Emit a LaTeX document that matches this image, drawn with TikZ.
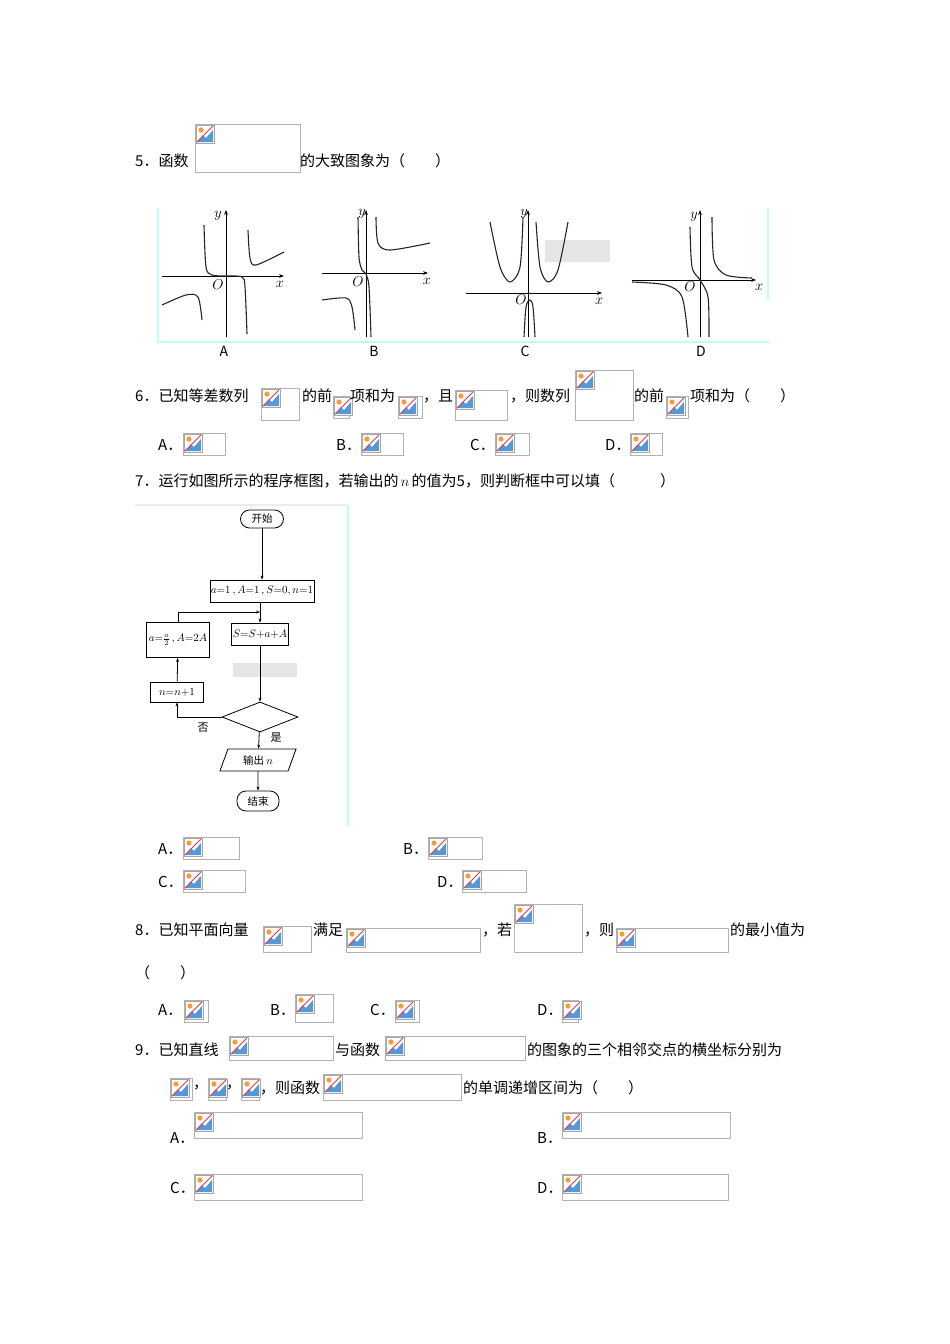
\documentclass[tikz,border=0pt]{standalone}
\usepackage{fontspec}
\setmainfont{Noto Sans CJK SC}
\usetikzlibrary{shapes.geometric,arrows.meta}
\newcommand\bimg[4]{%
  \draw[gray!60,line width=0.6] (#1,#2) rectangle ++(#3,#4);
  \begin{scope}[shift={(#1+1,#2+1)}]
    \fill[white] (0,0) rectangle (18,18);
    \draw[gray!70,line width=0.5] (0,0) rectangle (18,18);
    \fill[orange!80] (5,5) circle (2.6);
    \fill[cyan!60!blue!70] (1,17) -- (7,10) -- (10,13) -- (17,5) -- (17,17) -- cycle;
    \draw[red!80,line width=1] (17,1) -- (1,17);
  \end{scope}}
\begin{document}
\begin{tikzpicture}[x=1pt,y=-1pt,
  txt/.style={anchor=west,inner sep=0pt,font=\fontsize{15}{18}\selectfont},
  cur/.style={line width=1.1,gray!30!black},
  ax/.style={line width=0.7,-{Stealth[length=5pt]}},
  lab/.style={inner sep=0pt,font=\fontsize{14}{16}\selectfont},
  fb/.style={draw,line width=0.8,inner sep=1pt,font=\fontsize{10.5}{12}\selectfont},
  fa/.style={line width=0.8,-{Stealth[length=4pt]}}]
\useasboundingbox (0,0) rectangle (950,1344);
\fill[white] (0,0) rectangle (950,1344);
% Q5
\node[txt] (q5a) at (135,161) {5．函数};
\bimg{195}{124}{105}{48}
\node[txt] (q5b) at (300,161) {的大致图象为（　　）};
% graphs frame
\draw[green!30!cyan!25,line width=2] (158,208) -- (158,342) -- (770,342);
\draw[green!30!cyan!25,line width=2] (768,208) -- (768,300);
% A
\draw[ax] (162,276) -- (284,276);
\draw[ax] (226,337) -- (226,210);
\node[lab] (ay) at (218,216) {$y$};
\node[lab] (ao) at (218,285) {$O$};
\node[lab] (ax) at (280,284) {$x$};
\draw[cur] plot[smooth] coordinates {(204,225) (206,267) (212,275) (226,276)};
\draw[cur] plot[smooth] coordinates {(226,276) (242,277) (245,287) (247,334)};
\draw[cur] plot[smooth] coordinates {(162,305) (186,295) (198,297) (202,320)};
\draw[cur] plot[smooth] coordinates {(248,230) (250,258) (256,265) (284,252)};
% B
\draw[ax] (322,273) -- (428,273);
\draw[ax] (366,337) -- (366,210);
\node[lab] (by) at (362,214) {$y$};
\node[lab] (bo) at (358,282) {$O$};
\node[lab] (bx) at (427,281) {$x$};
\draw[cur] plot[smooth] coordinates {(358,217) (359,257) (362,270) (366,274) (369,287) (371,337)};
\draw[cur] plot[smooth] coordinates {(376,217) (378,243) (390,250) (430,243)};
\draw[cur] plot[smooth] coordinates {(322,300) (346,298) (352,307) (355,330)};
% C
\draw[ax] (466,293) -- (602,293);
\draw[ax] (528,337) -- (528,210);
\node[lab] (cy) at (524,214) {$y$};
\node[lab] (co) at (521,300) {$O$};
\node[lab] (cx) at (599,301) {$x$};
\fill[gray!20] (545,240) rectangle (610,262);
\draw[cur] plot[smooth] coordinates {(490,222) (500,267) (510,282) (520,267) (523,217)};
\draw[cur] plot[smooth] coordinates {(536,222) (540,267) (548,282) (558,270) (568,222)};
\draw[cur] plot[smooth] coordinates {(524,337) (526,307) (530,300) (533,307) (535,337)};
% D
\draw[ax] (632,280) -- (756,280);
\draw[ax] (700,337) -- (700,210);
\node[lab] (dy) at (694,217) {$y$};
\node[lab] (do) at (690,287) {$O$};
\node[lab] (dx) at (759,287) {$x$};
\draw[cur] plot[smooth] coordinates {(632,282) (666,285) (682,297) (688,337)};
\draw[cur] plot[smooth] coordinates {(690,227) (692,267) (700,280) (708,297) (709,337)};
\draw[cur] plot[smooth] coordinates {(712,217) (714,260) (726,275) (752,278)};
\node[lab] (la) at (224,351) {A};
\node[lab] (lb) at (374,351) {B};
\node[lab] (lc) at (525,351) {C};
\node[lab] (ld) at (701,351) {D};
% Q6
\node[txt] (q6a) at (135,396) {6．已知等差数列};
\bimg{261}{388}{38}{32}
\node[txt] (q6b) at (302,396) {的前};
\bimg{333}{396}{16}{22}
\node[txt] (q6c) at (350,396) {项和为};
\bimg{398}{396}{24}{22}
\node[txt] (q6d) at (423,396) {，且};
\bimg{455}{390}{52}{30}
\node[txt] (q6e) at (510,396) {，则数列};
\bimg{575}{370}{58}{50}
\node[txt] (q6f) at (634,396) {的前};
\bimg{666}{396}{22}{22}
\node[txt] (q6g) at (690,396) {项和为（　　）};
\node[txt] (o6a) at (158,445) {A．};
\bimg{183}{433}{42}{22}
\node[txt] (o6b) at (336,445) {B．};
\bimg{361}{433}{42}{22}
\node[txt] (o6c) at (470,445) {C．};
\bimg{495}{433}{34}{22}
\node[txt] (o6d) at (605,445) {D．};
\bimg{630}{433}{32}{22}
% Q7
\node[txt] (q7) at (135,481) {7．运行如图所示的程序框图，若输出的$\,n\,$的值为5，则判断框中可以填（　　　）};
\draw[gray!15,line width=1.5] (135,505) -- (348,505);
\draw[green!30!cyan!25,line width=2] (348,505) -- (348,826);
\node[fb,rounded corners=9pt,minimum width=43,minimum height=18] (st) at (262,519) {开始};
\node[fb,minimum width=99,minimum height=22] (b1) at (262,591) {$a{=}1\,,A{=}1\,,S{=}0,n{=}1$};
\node[fb,minimum width=54,minimum height=22] (b2) at (260,634) {$S{=}S{+}a{+}A$};
\node[fb,minimum width=63,minimum height=35] (b3) at (178,640) {$a{=}\frac{a}{2}\,,A{=}2A$};
\node[fb,minimum width=53,minimum height=20] (b4) at (177,692) {$n{=}n{+}1$};
\fill[gray!20] (233,663) rectangle (297,677);
\node[fb,diamond,aspect=2.5,minimum width=76,minimum height=30,inner sep=0pt] (dm) at (260,717) {};
\node[fb,trapezium,trapezium left angle=70,trapezium right angle=110,minimum width=61,minimum height=22] (out) at (258,760) {输出 $n$};
\node[fb,rounded corners=9pt,minimum width=42,minimum height=20] (en) at (258,801) {结束};
\draw[fa] (st) -- (b1.north -| st);
\coordinate (jn) at (260,612);
\draw[fa] (b1.south -| b2) -- (b2);
\draw[fa] (b3.north) |- (jn);
\draw[fa] (b2) -- (dm);
\draw[fa] (dm.west) -| (b4.south);
\draw[fa] (b4) -- (b3);
\draw[fa] (dm) -- (out);
\draw[fa] (out) -- (en);
\node[inner sep=0pt,font=\fontsize{11}{12}\selectfont] (no) at (203,728) {否};
\node[inner sep=0pt,font=\fontsize{11}{12}\selectfont] (yes) at (276,738) {是};
\node[txt] (o7a) at (158,849) {A．};
\bimg{183}{837}{56}{22}
\node[txt] (o7b) at (403,849) {B．};
\bimg{428}{837}{54}{22}
\node[txt] (o7c) at (158,882) {C．};
\bimg{183}{870}{62}{22}
\node[txt] (o7d) at (437,882) {D．};
\bimg{462}{870}{64}{22}
% Q8
\node[txt] (q8a) at (135,930) {8．已知平面向量};
\bimg{263}{926}{48}{26}
\node[txt] (q8b) at (313,930) {满足};
\bimg{346}{928}{134}{24}
\node[txt] (q8c) at (482,930) {，若};
\bimg{514}{904}{68}{48}
\node[txt] (q8d) at (584,930) {，则};
\bimg{616}{928}{112}{24}
\node[txt] (q8e) at (730,930) {的最小值为};
\node[txt] (q8f) at (135,973) {（　　）};
\node[txt] (o8a) at (158,1010) {A．};
\bimg{184}{1000}{24}{22}
\node[txt] (o8b) at (270,1010) {B．};
\bimg{295}{994}{38}{28}
\node[txt] (o8c) at (370,1010) {C．};
\bimg{395}{1000}{24}{22}
\node[txt] (o8d) at (537,1010) {D．};
\bimg{562}{1000}{16}{22}
% Q9
\node[txt] (q9a) at (135,1050) {9．已知直线};
\bimg{229}{1036}{104}{24}
\node[txt] (q9b) at (335,1050) {与函数};
\bimg{385}{1036}{140}{24}
\node[txt] (q9c) at (527,1050) {的图象的三个相邻交点的横坐标分别为};
\bimg{170}{1078}{22}{22}
\node[txt] (q9d) at (193,1088) {，};
\bimg{208}{1078}{18}{22}
\node[txt] (q9e) at (226,1088) {，};
\bimg{241}{1078}{18}{22}
\node[txt] (q9f) at (260,1088) {，则函数};
\bimg{323}{1074}{138}{26}
\node[txt] (q9g) at (463,1088) {的单调递增区间为（　　）};
\node[txt] (o9a) at (170,1138) {A．};
\bimg{194}{1112}{168}{26}
\node[txt] (o9b) at (537,1138) {B．};
\bimg{562}{1112}{168}{26}
\node[txt] (o9c) at (170,1188) {C．};
\bimg{194}{1174}{168}{26}
\node[txt] (o9d) at (537,1188) {D．};
\bimg{562}{1174}{166}{26}
\end{tikzpicture}
\end{document}
